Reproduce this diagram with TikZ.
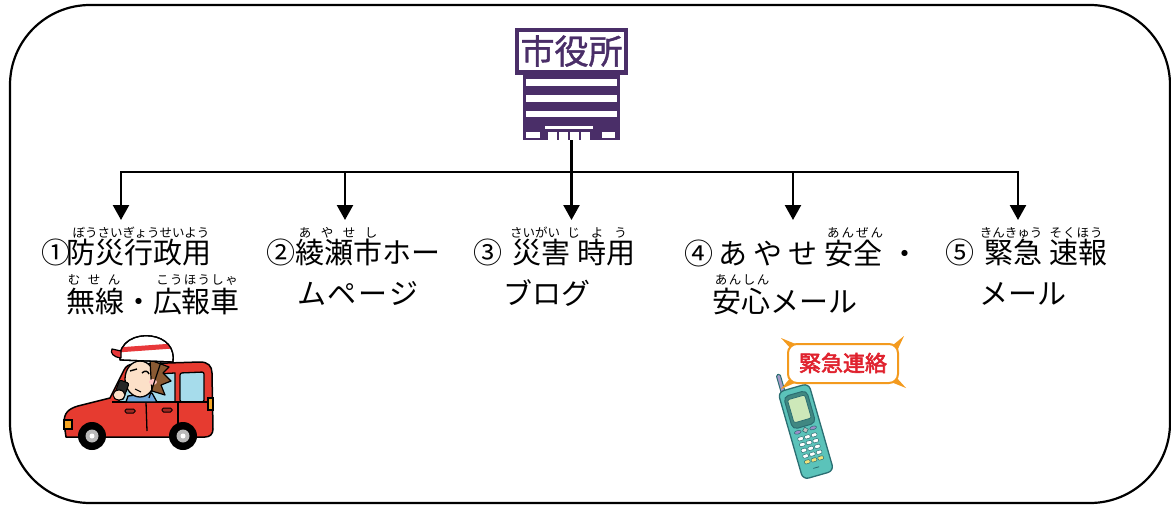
\documentclass[tikz,border=0pt]{standalone}
\usepackage{fontspec}
\newfontfamily\jp{Noto Sans CJK JP}
\newfontfamily\jpbold[FakeBold=2.5]{Noto Sans CJK JP}
\newfontfamily\jpsign[FakeBold=1.2]{Noto Sans CJK JP}
\usetikzlibrary{arrows.meta}
\definecolor{hallpurple}{HTML}{4A2E68}
\definecolor{carred}{HTML}{E63B30}
\definecolor{capred}{HTML}{E8383A}
\definecolor{glass}{HTML}{A6DCEB}
\definecolor{skin}{HTML}{FCE0C8}
\definecolor{hair}{HTML}{8A5A33}
\definecolor{lamp}{HTML}{F5A623}
\definecolor{shirtblue}{HTML}{6FA8DC}
\definecolor{phoneteal}{HTML}{5BC3BA}
\definecolor{phonedark}{HTML}{2B6E72}
\definecolor{screengreen}{HTML}{CDE8B9}
\definecolor{antenna}{HTML}{A49AC9}
\definecolor{keypurple}{HTML}{9C8CC8}
\definecolor{keyyellow}{HTML}{F3E27A}
\definecolor{bubbleorange}{HTML}{F39A1E}
\definecolor{alertred}{HTML}{E0222E}
\begin{document}
\begin{tikzpicture}[x=1pt,y=-1pt,
  link/.style={line width=2.4pt},
  feed/.style={link,-{Triangle[width=16pt,length=15pt]}},
  main/.style={font=\jp\fontsize{29}{30}\selectfont,inner sep=0pt,anchor=base},
  ruby/.style={font=\jp\fontsize{12.5}{13}\selectfont,inner sep=0pt,anchor=base},
  ink/.style={draw=black,line width=1.3pt,line join=round}]

\useasboundingbox (0,0) rectangle (1171,506);

% outer frame
\draw[line width=2.2pt,rounded corners=80pt] (10,5) rectangle (1170,503);

% ---------- city hall icon ----------
\node[minimum width=113pt,minimum height=112pt,inner sep=0pt] (hall) at (571.5,84) {};
\fill[hallpurple] (515,28) rectangle (628,75);
\fill[white] (519,32) rectangle (624,70);
\fill[hallpurple] (523,74) rectangle (620,140);
\fill[white] (526,79) rectangle (617,86);
\fill[white] (526,95) rectangle (617,102);
\fill[white] (526,111) rectangle (617,117);
\fill[white] (545,126) rectangle (593,129);
\fill[white] (526,132) rectangle (540,138);
\fill[white] (602,132) rectangle (615,138);
\foreach \wx in {548,559,570,581}
  \fill[white] (\wx,132) rectangle ++(9,8);
\node[font=\jpsign\fontsize{34}{34}\selectfont,text=hallpurple,inner sep=0pt] (hallsign) at (571.5,51) {市役所};

% ---------- connectors ----------
\coordinate (hub) at (571.5,172);
\coordinate (t1) at (121,220);
\coordinate (t2) at (345,220);
\coordinate (t3) at (571.5,220);
\coordinate (t4) at (793,220);
\coordinate (t5) at (1018,220);
\coordinate (b2) at (345,172);
\coordinate (b4) at (793,172);
\draw[link] (hall.south) -- (hub);
\draw[feed] (hub) -| (t1);
\draw[feed] (hub) -| (t5);
\draw[feed] (b2) -- (t2);
\draw[feed] (hub) -- (t3);
\draw[feed] (b4) -- (t4);

% ---------- labels ----------
% 1
\node[main] (n1) at (56,263.5) {①};
\node[main] (l1a) at (139,263.5) {防災行政用};
\node[ruby] (r1a) at (141,237) {ぼうさいぎょうせいよう};
\node[main] (l1b) at (153,312) {無線・広報車};
\node[ruby] (r1b) at (94,284) {む\kern7.5ptせ\kern7.5ptん};
\node[ruby] (r1c) at (197,284) {こ\kern1.3ptう\kern1.3ptほ\kern1.3ptう\kern1.3ptし\kern1.3ptゃ};
% 2
\node[main] (l2a) at (353,263.5) {②綾瀬市ホー};
\node[ruby] (r2a) at (338,237) {あ\kern9.5ptや\kern9.5ptせ\kern9.5ptし};
\node[main] (l2b) at (358,304.5) {ム\kern2ptペ\kern2ptー\kern2ptジ};
% 3
\node[main] (n3) at (488,263.5) {③};
\node[main] (l3a) at (541,263.5) {災害};
\node[main] (l3c) at (606,263.5) {時用};
\node[ruby] (r3a) at (535,237) {さいがい};
\node[ruby] (r3b) at (597,237) {じ\kern11ptよ\kern11ptう};
\node[main] (l3b) at (547,304.5) {ブログ};
% 4
\node[main] (l4a) at (751,264.5) {④\kern6ptあ\kern6ptや\kern6ptせ};
\node[main] (l4c) at (853,264.5) {安全};
\node[main] (l4d) at (905,264.5) {・};
\node[ruby] (r4a) at (855,237) {あ\kern2ptん\kern2ptぜ\kern2ptん};
\node[main] (l4b) at (785,312) {安心メール};
\node[ruby] (r4b) at (742,284) {あ\kern1.5ptん\kern1.5ptし\kern1.5ptん};
% 5
\node[main] (n5) at (960,263.5) {⑤};
\node[main] (l5a) at (1013,263.5) {緊急};
\node[main] (l5c) at (1078,263.5) {速報};
\node[ruby] (r5a) at (1011,237) {きんきゅう};
\node[ruby] (r5b) at (1076,237) {そ\kern1ptく\kern1ptほ\kern1ptう};
\node[main] (l5b) at (1023,304.5) {メール};

% ---------- patrol car ----------
\filldraw[fill=carred,draw=black,line width=1.5pt,line join=round]
  (66,437) -- (64,423) .. controls (64,413) and (68,409) .. (78,406)
  -- (110,398) -- (124,370) .. controls (126,366) and (129,364) .. (135,364)
  -- (200,362) .. controls (208,362) and (212,366) .. (212,373)
  -- (213,429) .. controls (213,434) and (210,437) .. (205,437) -- cycle;
\filldraw[fill=glass,ink] (137,375) -- (175,373) -- (175,402) -- (118,402) -- cycle;
\filldraw[fill=glass,ink,rounded corners=2pt] (180,373) -- (204,372) -- (204,402) -- (180,402) -- cycle;
\draw[ink] (146,402) -- (147,431);
\draw[ink] (178,402) -- (178,429);
\draw[ink] (112,402) -- (212,402);
\filldraw[fill=carred!70!black,draw=black,line width=1pt,rounded corners=1.5pt] (125,409) rectangle (135,413);
\filldraw[fill=carred!70!black,draw=black,line width=1pt,rounded corners=1.5pt] (162,408) rectangle (172,412);
\filldraw[fill=lamp,draw=black,line width=1.2pt] (64,420) rectangle (72,429);
\filldraw[fill=lamp,draw=black,line width=1.2pt] (208,398) rectangle (213,410);
% driver
\filldraw[fill=shirtblue,ink] (128,396) -- (152,393) -- (157,402) -- (126,402) -- cycle;
\filldraw[fill=skin,ink] (140,379) ellipse[x radius=15,y radius=18];
\filldraw[fill=hair,draw=black,line width=1.2pt,line join=round]
  (150,360) -- (169,367) -- (163,373) -- (171,381) -- (161,385) -- (165,395) -- (152,391) -- (151,378) -- cycle;
\filldraw[fill=white,ink] (120,360) .. controls (118,341) and (137,334) .. (151,336)
  .. controls (166,338) and (175,348) .. (173,362) -- cycle;
\begin{scope}
  \clip (120,360) .. controls (118,341) and (137,334) .. (151,336)
  .. controls (166,338) and (175,348) .. (173,362) -- cycle;
  \fill[capred] (110,348) -- (180,343) -- (180,348) -- (110,353) -- cycle;
\end{scope}
\draw[ink] (120,360) .. controls (118,341) and (137,334) .. (151,336)
  .. controls (166,338) and (175,348) .. (173,362) -- cycle;
\filldraw[fill=capred,draw=black,line width=1.2pt,line join=round]
  (121,351) -- (112,349) .. controls (110,353) and (113,357) .. (121,358) -- cycle;
\draw[black,line width=1.4pt] (130,371) -- (137,369);
\draw[black,line width=1.4pt] (142,373) .. controls (145,370) and (148,371) .. (149,374);
\fill[pink!80!red!60] (153,382) ellipse[x radius=4,y radius=3];
\draw[black,line width=1.1pt] (135,389) -- (141,392);
\draw[black,line width=1.2pt] (161,362) -- (149,398);
\filldraw[fill=black!85,draw=black,line width=1pt,rounded corners=2pt,rotate around={-20:(121,391)}]
  (116,381) rectangle (126,399);
\filldraw[fill=skin,draw=black,line width=1.1pt] (119,395) ellipse[x radius=6,y radius=5];
% wheels
\foreach \wx in {92,183}{
  \fill[black] (\wx,436) circle[radius=14];
  \fill[gray!55] (\wx,436) circle[radius=6.5];
  \fill[white] (\wx,436) circle[radius=2.5];
}

% ---------- mobile phone ----------
\begin{scope}[shift={(806,432)},rotate=16]
  \filldraw[fill=antenna,draw=phonedark,line width=1pt,rounded corners=1.5pt] (-13,-63) rectangle (-9,-40);
  \filldraw[fill=phoneteal,draw=phonedark,line width=1.3pt,rounded corners=6pt] (-16,-46) rectangle (16,45);
  \filldraw[fill=phoneteal!70!black,draw=phonedark,line width=1pt,rounded corners=5pt] (-12,-40) rectangle (12,-6);
  \filldraw[fill=screengreen,draw=phonedark,line width=.8pt,rounded corners=2pt] (-9,-36) rectangle (9,-12);
  \filldraw[fill=gray!50,draw=phonedark,line width=.6pt] (0,-5) -- (3,-2) -- (0,1) -- (-3,-2) -- cycle;
  \filldraw[fill=keypurple,draw=phonedark,line width=.5pt] (-8,-2) ellipse[x radius=3.5,y radius=1.8];
  \filldraw[fill=keypurple,draw=phonedark,line width=.5pt] (8,-2) ellipse[x radius=3.5,y radius=1.8];
  \foreach \kc in {-7,0,7}{
    \foreach \kr in {5,11,17,23}
      \filldraw[fill=white,draw=phonedark,line width=.5pt,rounded corners=1pt] (\kc,\kr) ++(-2.8,-1.8) rectangle ++(5.6,3.6);
    \filldraw[fill=keyyellow,draw=phonedark,line width=.5pt,rounded corners=1pt] (\kc,29) ++(-2.8,-1.8) rectangle ++(5.6,3.6);
  }
  \draw[phonedark,line width=.8pt] (-3,37) -- (3,37);
\end{scope}

% alert bubble
\fill[bubbleorange] (792,350) -- (781,338) -- (798,345) -- cycle;
\fill[bubbleorange] (893,345) -- (904,336) -- (897,351) -- cycle;
\fill[bubbleorange] (791,377) -- (781,389) -- (797,382) -- cycle;
\fill[bubbleorange] (896,377) -- (906,388) -- (891,382) -- cycle;
\filldraw[fill=white,draw=bubbleorange,line width=2pt,rounded corners=9pt] (788,344) rectangle (898,383);
\node[font=\jpbold\fontsize{22}{22}\selectfont,text=alertred,inner sep=0pt] (alert) at (843,363) {緊急連絡};

\end{tikzpicture}
\end{document}
